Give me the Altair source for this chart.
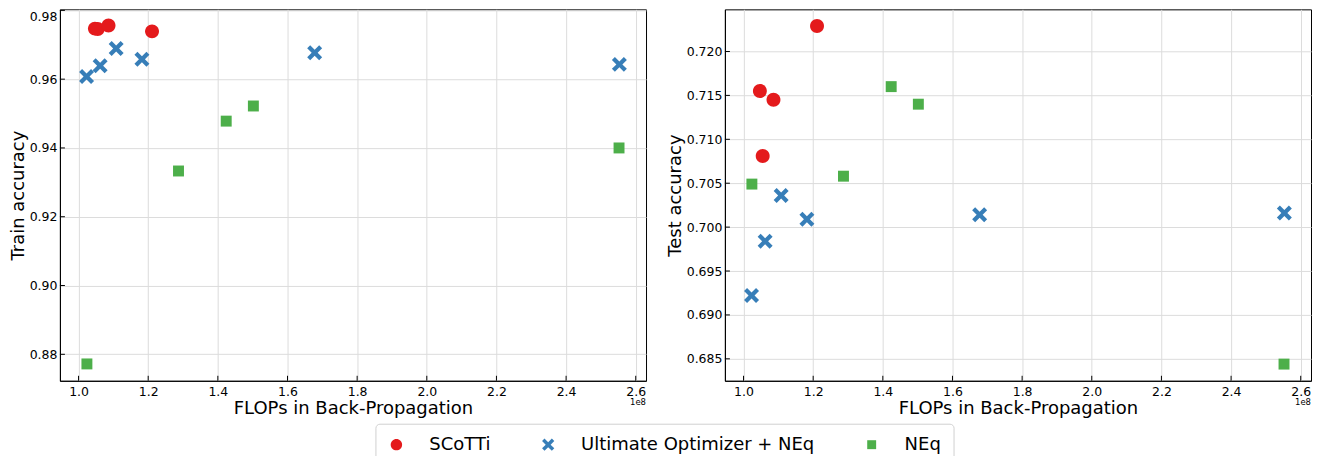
import altair as alt
import pandas as pd

# ---------------- data ----------------
methods = ["SCoTTi", "Ultimate Optimizer + NEq", "NEq"]
colors = ["#e41a1c", "#377eb8", "#4daf4a"]

scotti_flops = [1.047e8, 1.055e8, 1.086e8, 1.211e8]
scotti_train = [0.9747, 0.9746, 0.9756, 0.9739]
scotti_test = [0.7155, 0.7081, 0.7145, 0.7229]

uo_flops = [1.023e8, 1.062e8, 1.108e8, 1.182e8, 1.678e8, 2.553e8]
uo_train = [0.9608, 0.9639, 0.9689, 0.9658, 0.9677, 0.9643]
uo_test = [0.6922, 0.6984, 0.7036, 0.7009, 0.7014, 0.7016]

neq_flops = [1.024e8, 1.287e8, 1.424e8, 1.502e8, 2.552e8]
neq_train = [0.8772, 0.9333, 0.9478, 0.9522, 0.9400]
neq_test = [0.7049, 0.7058, 0.7160, 0.7140, 0.6844]

x_ticks = [1.0e8, 1.2e8, 1.4e8, 1.6e8, 1.8e8, 2.0e8, 2.2e8, 2.4e8, 2.6e8]
train_ticks = [0.88, 0.90, 0.92, 0.94, 0.96, 0.98]
test_ticks = [0.685, 0.690, 0.695, 0.700, 0.705, 0.710, 0.715, 0.720]
offset_label = ["1e8"]

rows = []
for m, fl, tr, te in [
    (methods[0], scotti_flops, scotti_train, scotti_test),
    (methods[1], uo_flops, uo_train, uo_test),
    (methods[2], neq_flops, neq_train, neq_test),
]:
    for f, a, b in zip(fl, tr, te):
        rows.append({"method": m, "flops": f, "train": a, "test": b})
df = pd.DataFrame(rows)

# ---------------- styling ----------------
W, H = 587, 372
FONT = "DejaVu Sans"
CIRCLE = "M0.93,0A0.93,0.93,0,1,1,-0.93,0A0.93,0.93,0,1,1,0.93,0Z"
X_SHAPE = "M-1,-0.6L-0.6,-1L0,-0.4L0.6,-1L1,-0.6L0.4,0L1,0.6L0.6,1L0,0.4L-0.6,1L-1,0.6L-0.4,0Z"
SQUARE = "M-0.73,-0.73L0.73,-0.73L0.73,0.73L-0.73,0.73Z"

legend = alt.Legend(
    title=None, orient="none", legendX=316, legendY=415, direction="horizontal",
    columns=3, labelFont=FONT, labelFontSize=18, labelColor="black",
    labelOffset=24, columnPadding=48, padding=12, strokeColor="#d0d0d0",
    fillColor="white", cornerRadius=4, symbolStrokeWidth=0, labelLimit=400,
    symbolSize=150,
)


def panel(ycol, ytitle, ydomain, yticks, yfmt, top_val):
    xs = alt.Scale(domain=[0.9465e8, 2.6295e8], nice=False, zero=False)
    ys = alt.Scale(domain=ydomain, nice=False, zero=False)
    xaxis = alt.Axis(title="FLOPs in Back-Propagation", values=x_ticks,
                     labelExpr="format(datum.value / 1e8, '.1f')",
                     labelPadding=5, titlePadding=1)
    yaxis = alt.Axis(
        title=ytitle, values=yticks, format=yfmt, titlePadding=2,
        labelOffset={"condition": {"test": f"datum.value >= {top_val}", "value": 6}, "value": 0},
    )

    pts = alt.Chart(df).mark_point(filled=True, opacity=1, strokeWidth=0, size=225).encode(
        x=alt.X("flops:Q", scale=xs, axis=xaxis),
        y=alt.Y(f"{ycol}:Q", scale=ys, axis=yaxis),
        color=alt.Color("method:N", scale=alt.Scale(domain=methods, range=colors), legend=legend),
        shape=alt.Shape("method:N", scale=alt.Scale(domain=methods, range=[CIRCLE, X_SHAPE, SQUARE]), legend=legend),
    )
    xt = alt.Chart(pd.DataFrame({"flops": x_ticks})).mark_rule(color="black", strokeWidth=1).encode(
        x=alt.X("flops:Q", scale=xs, axis=xaxis),
        y=alt.value(H), y2=alt.value(H - 5),
    )
    yt = alt.Chart(pd.DataFrame({ycol: yticks})).mark_rule(color="black", strokeWidth=1).encode(
        y=alt.Y(f"{ycol}:Q", scale=ys, axis=yaxis),
        x=alt.value(0), x2=alt.value(5),
    )
    off = alt.Chart(pd.DataFrame({"t": offset_label})).mark_text(
        align="right", baseline="middle", fontSize=8.5, font=FONT, color="black"
    ).encode(x=alt.value(W), y=alt.value(H + 21), text="t:N")
    return alt.layer(pts, xt, yt, off).properties(width=W, height=H)


left = panel("train", "Train accuracy", [0.8723, 0.9803], train_ticks, ".2f", 0.979)
right = panel("test", "Test accuracy", [0.6825, 0.7248], test_ticks, ".3f", 0.7245)

chart = alt.hconcat(left, right, spacing=18).properties(
    padding={"left": 0, "top": 0, "right": 0, "bottom": 0}
).configure_view(stroke="black", strokeWidth=1).configure_axis(
    labelFont=FONT, labelFontSize=12.5, labelColor="black", labelPadding=3,
    titleFont=FONT, titleFontSize=18, titleFontWeight="normal", titleColor="black",
    titlePadding=2, domainColor="black", domainWidth=1, ticks=False, tickSize=0,
    gridColor="#dcdcdc", gridWidth=1,
)

chart.save("out.html", embed_options={"renderer": "svg", "actions": False})
